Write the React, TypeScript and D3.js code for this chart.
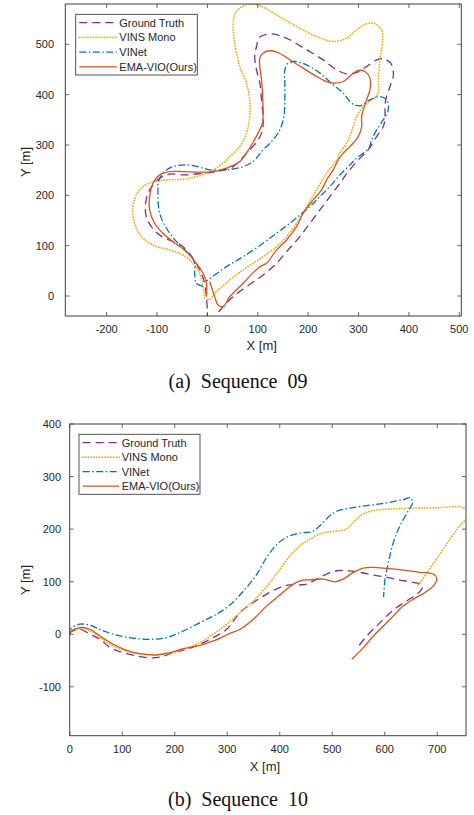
import React from "react";
import * as d3 from "d3";

type Pt = [number, number];

// ---------- Sequence 09 (X [m], Y [m]) ----------
const seq09GroundTruth: Pt[] = [
  [-1, -50], [0, -34.4], [-2, -1.4], [-5.4, 25.2], [-15.3, 51.7], [-28.6, 75], [-48.5, 98], [-75, 111],
  [-94.8, 121], [-111.3, 137.8], [-121.3, 157.7], [-123.3, 177.5], [-118, 204], [-108, 220.7], [-94.8, 234],
  [-75, 242], [-41.7, 240.6], [-8.7, 244], [18, 247], [51, 257], [77.5, 283.7], [100.6, 310], [109.3, 330],
  [110.5, 356.5], [107.4, 389.7], [104, 423], [97.4, 449.3], [94, 475.7], [97.4, 495.6], [104, 514.3],
  [120.5, 520.3], [140.4, 518.3], [163.6, 509], [196.8, 489], [229.8, 469], [256.5, 449.3], [276.3, 441.4],
  [296.2, 444], [316, 455.9], [336, 469], [352.5, 470.6], [365.8, 459.2], [369, 436], [362.4, 416],
  [353.9, 389.7], [352.5, 369.8], [352.5, 349.9], [349.1, 336.6], [336, 316.7], [319.3, 290.3], [302.8, 273.8],
  [279.5, 247], [263, 224], [243, 197.4], [223.3, 171], [203.4, 144.5], [183.5, 117.9], [160.2, 91.5],
  [137.2, 65], [110.5, 41.7], [77.5, 18.5], [51, -1.4], [31, -21.3], [17.9, -37.8], [10, -50],
];
const seq09VinsMono: Pt[] = [
  [-5.4, -4], [-8.7, 18.5], [-15.3, 45], [-28.6, 65], [-48.5, 81.5], [-75, 91.5], [-108, 101], [-131, 118],
  [-144.5, 144.5], [-148, 177.5], [-141, 201], [-128, 217.3], [-108, 227], [-81.5, 230.6], [-48.5, 232],
  [-21.9, 237], [4.6, 247], [31, 263.8], [44.3, 277], [64.2, 296.8], [77.5, 323.5], [84, 356.5], [84, 389.7],
  [77.5, 422.9], [64.2, 455.9], [54.3, 502.4], [51, 535.4], [54.3, 558.6], [64.2, 572], [84, 580],
  [104, 576.5], [137.2, 558.6], [177, 535.4], [216.7, 515.5], [249.7, 505.6], [276.3, 512.3], [296.2, 528.8],
  [316, 540.8], [332.6, 540.8], [346, 528.8], [348, 509], [342.5, 469], [339.2, 429.4], [339.2, 403],
  [326, 389.7], [309.3, 376.3], [296.2, 356.5], [289.5, 336.6], [279.5, 310], [263, 283.7], [256.5, 270.4],
  [236.6, 244], [216.7, 210.7], [196.8, 177.5], [177, 144.5], [157, 118], [137.2, 98], [110.5, 78.1],
  [70.8, 51.7], [44.3, 31.8], [17.9, 8.5], [2.6, -8], [-1, -3],
];
const seq09VINet: Pt[] = [
  [-8.7, 19.3], [-21.9, 25.2], [-25.2, 45.1], [-25.2, 65], [-31.8, 78.1], [-51.7, 98], [-75, 124.7],
  [-94.8, 164.4], [-98.2, 210.7], [-98.2, 224], [-88.3, 244], [-68.4, 257], [-41.7, 260.4], [-15.3, 255.9],
  [4.6, 250.5], [37.8, 250.5], [70.8, 257], [90.7, 267], [110.5, 290.3], [130.4, 310], [143.7, 330],
  [151.7, 356.5], [153.7, 389.7], [153.7, 422.9], [153.7, 449.3], [160.2, 462.6], [173.6, 465.8],
  [196.8, 459.2], [223.3, 442.7], [249.7, 419.5], [269.6, 403], [286.3, 383], [302.8, 377.7], [322.7, 389.7],
  [342.5, 396.2], [355.9, 389.7], [359, 369.8], [349.1, 349.9], [336, 330], [326, 310], [320.5, 293.6],
  [309.3, 283.7], [296.2, 273.8], [283, 260.4], [263, 240.6], [243, 217.3], [223.3, 197.4], [203.4, 177.5],
  [183.5, 161], [163.6, 144.5], [137.2, 124.7], [110.5, 104.8], [70.8, 78.1], [37.8, 58.3], [1.2, 31.8],
  [-3.4, 28.8],
];
const seq09EmaVio: Pt[] = [
  [-2, -1.4], [-2, 25.2], [-8.7, 45.1], [-21.9, 65], [-41.7, 88.1], [-68.4, 108], [-88.3, 124.7],
  [-104.8, 144.5], [-114.7, 171], [-114.7, 197.4], [-108, 224], [-94.8, 240.6], [-75, 247.1], [-48.5, 247.1],
  [-15.3, 245.9], [11.1, 247.1], [37.8, 253.9], [64.2, 267], [84, 294], [100.6, 323.5], [109.3, 343.3],
  [110.5, 369.8], [109.3, 403], [107.4, 429.4], [104, 455.9], [104, 472.6], [110.5, 482.5], [123.9, 487.1],
  [140.4, 483.7], [163.6, 469.2], [190.1, 452.7], [216.7, 436], [236.6, 426], [253.1, 422.9], [269.6, 426],
  [286.3, 439.4], [299.4, 447.9], [312.7, 445.9], [322.7, 432.8], [322.7, 409.5], [316, 389.7],
  [306.2, 356.5], [306.2, 336.6], [299.4, 316.7], [282.9, 296.8], [269.6, 283.7], [259.6, 270.4],
  [249.7, 250.5], [236.6, 230.6], [226.6, 210.7], [210, 190.9], [190.1, 164.4], [177, 137.8], [157, 111.3],
  [137.2, 91.5], [117.3, 65], [104, 58.3], [70.8, 25.2], [44.3, -1.4], [31, -21.3], [21.1, -17.9],
  [14.5, -1.4], [8, 18.5], [4.6, 28.4],
];

// ---------- Sequence 10 (X [m], Y [m]) ----------
const seq10GroundTruth: Pt[] = [
  [0, 0], [0.6, 3.2], [19.6, 9.5], [38.7, 0], [57.7, -9.5], [76.8, -25.4], [102, -35], [127.6, -41.4],
  [153, -44.8], [172, -43.3], [197.3, -35], [222.9, -28.6], [248.2, -19.1], [273.5, -6.3], [299, 9.5],
  [324.4, 41.4], [349.7, 60.5], [375.2, 76.3], [400.6, 89.1], [419.6, 94.1], [438.7, 94.1], [451.4, 95.4],
  [470.5, 105], [489.5, 114.5], [508.6, 120.8], [527.6, 120.8], [553, 117.7], [578.3, 112.6], [603.8, 108.2],
  [629.1, 103], [654.5, 98.7], [670.5, 93.5], [670.5, 85.9], [661, 76.3], [641.9, 63.5], [622.9, 51],
  [603.8, 34.9], [584.8, 15.8], [565.7, -3.2], [546.7, -27.3],
];
const seq10VinsMono: Pt[] = [
  [0, 0], [0.6, 6.3], [19.6, 11.5], [38.7, 6.3], [57.7, -6.3], [83, -22.3], [108.6, -31.9], [140.2, -38.2],
  [165.7, -38.2], [191, -36.3], [216.4, -28.6], [248.2, -15.8], [273.5, 0], [299, 19.1], [324.4, 41.4],
  [343.4, 57.3], [362.5, 76.3], [381.5, 98.7], [400.6, 124], [419.6, 149.4], [438.7, 168.5], [457.7, 181.3],
  [476.8, 190.8], [495.8, 195.2], [514.9, 197.1], [527.6, 200.4], [543.4, 216.2], [559.2, 229], [578.3, 235.3],
  [610.1, 238.5], [654.5, 239.9], [705.3, 241], [743.4, 242.4], [756, 236], [760, 226], [743.4, 206.7],
  [724.4, 181.3], [705.3, 152.7], [689.5, 130.3], [676.8, 111.3], [667.2, 98.7], [661, 92.2],
];
const seq10VINet: Pt[] = [
  [0, 0], [0.6, 9.5], [19.6, 19.1], [38.7, 17.2], [64, 6.3], [95.8, -3.2], [127.6, -8.2], [159.2, -9.5],
  [184.8, -6.3], [216.4, 6.3], [248.2, 22.3], [280, 38.2], [305.3, 56], [330.7, 82], [356.2, 114],
  [375.2, 146.4], [394.3, 170.5], [413.3, 184.5], [438.7, 192.7], [461, 195.2], [476.8, 206.7],
  [495.8, 225.8], [508.6, 234.2], [533.9, 239.9], [565.7, 244.8], [603.8, 250], [635.4, 256.3],
  [648.2, 259.5], [653.3, 251.3], [645, 235.3], [629.1, 206.7], [616.4, 175], [606.9, 136.8], [600.6, 105],
  [597.7, 70.6],
];
const seq10EmaVio: Pt[] = [
  [0, 0], [0.6, 3.2], [19.6, 12.8], [38.7, 9.5], [57.7, -3.2], [83, -19.1], [108.6, -30.5], [133.9, -36.8],
  [165.7, -39.5], [191, -34.9], [216.4, -27.3], [248.2, -21], [273.5, -12.8], [305.3, 1.5], [324.4, 9.5],
  [349.7, 28.6], [375.2, 54], [400.6, 75], [425.9, 95.4], [438.7, 101.7], [457.7, 103.6], [483, 105],
  [505.3, 99.8], [521.1, 105], [540.2, 117.7], [559.2, 126], [578.3, 127.3], [603.8, 125.4], [635.4, 122.1],
  [667.2, 117.7], [692.6, 114.5], [699, 105], [692.6, 92.2], [676.8, 79.6], [654.5, 66.8], [635.4, 54],
  [616.4, 34.9], [597.3, 15.8], [578.3, -3.2], [559.2, -25.4], [537.1, -47.7],
];

const seriesNames = ["Ground Truth", "VINS Mono", "VINet", "EMA-VIO(Ours)"];
const seq09XTicks = [-200, -100, 0, 100, 200, 300, 400, 500];
const seq09YTicks = [0, 100, 200, 300, 400, 500];
const seq10XTicks = [0, 100, 200, 300, 400, 500, 600, 700];
const seq10YTicks = [-100, 0, 100, 200, 300, 400];

const COLORS = ["#7E2F8E", "#EDB120", "#0072BD", "#D95319"];
const DASHES = ["8,5", "0.2,2.6", "7,2.5,1.5,2.5", "none"];
const WIDTHS = [1.3, 1.8, 1.3, 1.3];
const CAPS = ["butt", "round", "butt", "butt"];
const SANS = "'Liberation Sans', Arial, Helvetica, sans-serif";
const SERIF = "'Liberation Serif', 'Times New Roman', Times, serif";
const AXIS = "#404040";
const TXT = "#262626";

type PanelProps = {
  id: string;
  series: Pt[][];
  box: { l: number; r: number; t: number; b: number };
  xDomain: [number, number];
  yDomain: [number, number];
  xTicks: number[];
  yTicks: number[];
  legend: { x: number; y: number; w: number; h: number; row0: number; dy: number; l0: number; l1: number; tx: number };
  yLabelY: number;
  xLabelY: number;
  xLabelX: number;
  tickLabelGap: number;
  xTickLabelY: number;
};

function Panel(p: PanelProps) {
  const { box } = p;
  const x = d3.scaleLinear().domain(p.xDomain).range([box.l, box.r]);
  const y = d3.scaleLinear().domain(p.yDomain).range([box.b, box.t]);
  const line = d3
    .line<Pt>()
    .x((d) => x(d[0]))
    .y((d) => y(d[1]))
    .curve(d3.curveCatmullRom.alpha(0.5));
  const tl = 4;
  return (
    <g>
      <defs>
        <clipPath id={p.id}>
          <rect x={box.l} y={box.t} width={box.r - box.l} height={box.b - box.t} />
        </clipPath>
      </defs>
      <rect x={box.l} y={box.t} width={box.r - box.l} height={box.b - box.t} fill="#fff" />
      <g clipPath={`url(#${p.id})`}>
        {p.series.map((s, i) => (
          <path
            key={i}
            d={line(s) || ""}
            fill="none"
            stroke={COLORS[i]}
            strokeWidth={WIDTHS[i]}
            strokeDasharray={DASHES[i]}
            strokeLinecap={CAPS[i] as any}
          />
        ))}
      </g>
      {p.xTicks.map((t) => (
        <g key={"x" + t}>
          <line x1={x(t)} x2={x(t)} y1={box.b} y2={box.b - tl} stroke={AXIS} strokeWidth={0.8} />
          <line x1={x(t)} x2={x(t)} y1={box.t} y2={box.t + tl} stroke={AXIS} strokeWidth={0.8} />
          <text x={x(t)} y={p.xTickLabelY} textAnchor="middle" fontSize={11} fontFamily={SANS} fill={TXT}>
            {t}
          </text>
        </g>
      ))}
      {p.yTicks.map((t) => (
        <g key={"y" + t}>
          <line x1={box.l} x2={box.l + tl} y1={y(t)} y2={y(t)} stroke={AXIS} strokeWidth={0.8} />
          <line x1={box.r} x2={box.r - tl} y1={y(t)} y2={y(t)} stroke={AXIS} strokeWidth={0.8} />
          <text x={box.l - p.tickLabelGap} y={y(t) + 4} textAnchor="end" fontSize={11} fontFamily={SANS} fill={TXT}>
            {t}
          </text>
        </g>
      ))}
      <rect x={box.l} y={box.t} width={box.r - box.l} height={box.b - box.t} fill="none" stroke={AXIS} strokeWidth={1} />
      <text x={p.xLabelX} y={p.xLabelY} textAnchor="middle" fontSize={13} fontFamily={SANS} fill={TXT}>
        X [m]
      </text>
      <text
        transform={`translate(29.5,${p.yLabelY}) rotate(-90)`}
        textAnchor="middle"
        fontSize={13}
        fontFamily={SANS}
        fill={TXT}
      >
        Y [m]
      </text>
      <rect x={p.legend.x} y={p.legend.y} width={p.legend.w} height={p.legend.h} fill="#fff" stroke={AXIS} strokeWidth={0.9} />
      {seriesNames.map((n, i) => {
        const yy = p.legend.row0 + i * p.legend.dy;
        return (
          <g key={n}>
            <line
              x1={p.legend.l0}
              x2={p.legend.l1}
              y1={yy}
              y2={yy}
              stroke={COLORS[i]}
              strokeWidth={WIDTHS[i]}
              strokeDasharray={DASHES[i]}
              strokeLinecap={CAPS[i] as any}
            />
            <text x={p.legend.tx} y={yy + 4} fontSize={11} fontFamily={SANS} fill={TXT}>
              {n}
            </text>
          </g>
        );
      })}
    </g>
  );
}

export default function App() {
  return (
    <svg width={474} height={815} style={{ position: "absolute", left: 0, top: 0, background: "#fff" }}>
      <rect x={0} y={0} width={474} height={815} fill="#fff" />
      <Panel
        id="clipA"
        series={[seq09GroundTruth, seq09VinsMono, seq09VINet, seq09EmaVio]}
        box={{ l: 65.3, r: 461.3, t: 4, b: 316 }}
        xDomain={[-282.1, 504]}
        yDomain={[-39.7, 580]}
        xTicks={seq09XTicks}
        yTicks={seq09YTicks}
        legend={{ x: 75.7, y: 14.3, w: 121.6, h: 60.7, row0: 22.7, dy: 14.75, l0: 79.3, l1: 116.7, tx: 119.3 }}
        yLabelY={162}
        xLabelX={261.7}
        xLabelY={350}
        tickLabelGap={11.3}
        xTickLabelY={333}
      />
      <Panel
        id="clipB"
        series={[seq10GroundTruth, seq10VinsMono, seq10VINet, seq10EmaVio]}
        box={{ l: 69.7, r: 466, t: 424, b: 735.7 }}
        xDomain={[0, 754.7]}
        yDomain={[-193, 400]}
        xTicks={seq10XTicks}
        yTicks={seq10YTicks}
        legend={{ x: 79, y: 434.3, w: 121, h: 60, row0: 442.7, dy: 14.5, l0: 82.7, l1: 119.3, tx: 121.7 }}
        yLabelY={580}
        xLabelX={265}
        xLabelY={771}
        tickLabelGap={8.7}
        xTickLabelY={753}
      />
      <text x={238} y={388} textAnchor="middle" fontSize={20} fontFamily={SERIF} fill="#111" wordSpacing={5}>
        (a) Sequence 09
      </text>
      <text x={238} y={806} textAnchor="middle" fontSize={20} fontFamily={SERIF} fill="#111" wordSpacing={5}>
        (b) Sequence 10
      </text>
    </svg>
  );
}
